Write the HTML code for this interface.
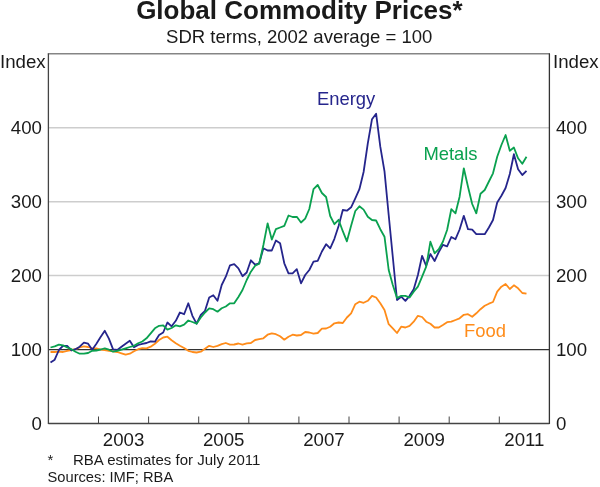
<!DOCTYPE html>
<html><head><meta charset="utf-8"><title>Global Commodity Prices</title>
<style>
html,body{margin:0;padding:0;background:#fff;}
svg{display:block;will-change:transform;font-family:"Liberation Sans",Arial,sans-serif;}
</style></head><body>
<svg width="600" height="487" viewBox="0 0 600 487">
<rect width="600" height="487" fill="#fff"/>
<text x="299.4" y="18.5" text-anchor="middle" font-size="26" font-weight="bold" fill="#1a1a1a">Global Commodity Prices*</text>
<text x="299.2" y="42.8" text-anchor="middle" font-size="18.55" fill="#1a1a1a">SDR terms, 2002 average = 100</text>
<line x1="48.4" x2="549.4" y1="127.8" y2="127.8" stroke="#cdcdcd" stroke-width="1.5"/><line x1="48.4" x2="549.4" y1="201.7" y2="201.7" stroke="#cdcdcd" stroke-width="1.5"/><line x1="48.4" x2="549.4" y1="275.6" y2="275.6" stroke="#cdcdcd" stroke-width="1.5"/>
<line x1="48.4" x2="549.4" y1="349.5" y2="349.5" stroke="#333" stroke-width="1.25"/>
<polyline fill="none" stroke="#ff8c1a" stroke-width="1.8" stroke-linejoin="round" points="50.5,352.0 54.7,352.0 58.9,351.7 63.0,352.0 67.2,350.8 71.4,350.0 75.5,349.2 79.7,347.5 83.9,346.3 88.1,347.0 92.2,348.3 96.4,348.3 100.6,349.5 104.8,350.0 108.9,350.8 113.1,351.3 117.3,352.0 121.5,353.3 125.6,354.7 129.8,353.7 134.0,351.3 138.2,349.2 142.3,348.2 146.5,348.3 150.7,346.7 154.9,343.7 159.1,340.0 163.2,337.5 167.4,336.7 171.6,340.3 175.8,343.3 179.9,345.8 184.1,348.0 188.3,350.8 192.4,352.0 196.6,352.5 200.8,351.7 205.0,348.7 209.2,345.8 213.3,347.0 217.5,345.8 221.7,344.2 225.8,343.0 230.0,344.7 234.2,344.5 238.4,343.5 242.5,344.7 246.7,343.3 250.9,343.0 255.1,340.0 259.2,339.2 263.4,338.3 267.6,334.7 271.8,333.3 275.9,334.2 280.1,336.3 284.3,339.7 288.5,336.7 292.6,334.7 296.8,335.5 301.0,335.0 305.2,332.0 309.3,332.5 313.5,333.7 317.7,333.0 321.9,328.7 326.1,328.5 330.2,326.7 334.4,323.3 338.6,322.5 342.8,323.0 346.9,317.5 351.1,313.3 355.3,304.2 359.4,301.7 363.6,302.8 367.8,300.8 372.0,295.8 376.1,297.5 380.3,303.3 384.5,310.0 388.7,324.2 392.8,328.3 397.0,333.0 401.2,326.7 405.4,327.5 409.6,325.8 413.7,321.7 417.9,315.8 422.1,317.0 426.2,321.7 430.4,323.8 434.6,327.5 438.8,327.5 442.9,325.0 447.1,322.2 451.3,321.7 455.5,320.0 459.6,318.3 463.8,314.8 468.0,314.2 472.2,316.8 476.3,313.3 480.5,309.2 484.7,305.8 488.9,303.7 493.0,302.0 497.2,291.7 501.4,286.7 505.6,284.0 509.8,289.0 513.9,285.3 518.1,288.3 522.3,293.0 526.5,293.7"/>
<polyline fill="none" stroke="#25258c" stroke-width="1.8" stroke-linejoin="round" points="50.5,362.5 54.7,359.7 58.9,350.0 63.0,345.8 67.2,345.8 71.4,350.5 75.5,349.2 79.7,346.7 83.9,342.7 88.1,343.7 92.2,349.7 96.4,343.7 100.6,337.0 104.8,330.8 108.9,338.7 113.1,349.3 117.3,350.0 121.5,346.7 125.6,343.7 129.8,340.8 134.0,347.2 138.2,345.0 142.3,343.9 146.5,343.0 150.7,341.3 154.9,341.7 159.1,335.0 163.2,332.5 167.4,322.5 171.6,326.3 175.8,320.8 179.9,312.5 184.1,314.2 188.3,303.3 192.4,315.8 196.6,323.7 200.8,315.0 205.0,310.8 209.2,297.5 213.3,295.3 217.5,300.8 221.7,285.0 225.8,276.7 230.0,265.3 234.2,264.2 238.4,268.3 242.5,276.2 246.7,272.5 250.9,260.3 255.1,264.7 259.2,263.3 263.4,248.3 267.6,250.5 271.8,250.5 275.9,240.5 280.1,243.3 284.3,263.3 288.5,273.3 292.6,273.3 296.8,269.2 301.0,283.3 305.2,275.0 309.3,270.0 313.5,261.7 317.7,260.8 321.9,251.5 326.1,244.2 330.2,248.3 334.4,238.8 338.6,226.0 342.8,210.0 346.9,210.7 351.1,207.3 355.3,198.3 359.4,189.2 363.6,172.0 367.8,143.3 372.0,119.2 376.1,113.7 380.3,146.7 384.5,171.3 388.7,215.0 392.8,257.0 397.0,300.0 401.2,296.7 405.4,300.8 409.6,295.8 413.7,289.2 417.9,275.0 422.1,255.8 426.2,265.8 430.4,254.0 434.6,261.0 438.8,252.0 442.9,244.8 447.1,246.3 451.3,237.0 455.5,239.2 459.6,229.5 463.8,215.8 468.0,229.2 472.2,229.7 476.3,234.2 480.5,234.2 484.7,234.2 488.9,227.5 493.0,220.0 497.2,202.5 501.4,195.8 505.6,188.0 509.8,174.0 513.9,154.2 518.1,169.2 522.3,175.0 526.5,170.8"/>
<polyline fill="none" stroke="#0aa14f" stroke-width="1.8" stroke-linejoin="round" points="50.5,347.5 54.7,346.3 58.9,344.7 63.0,345.3 67.2,347.5 71.4,349.2 75.5,351.7 79.7,353.7 83.9,353.7 88.1,353.0 92.2,350.8 96.4,350.5 100.6,349.5 104.8,348.3 108.9,349.7 113.1,351.7 117.3,350.8 121.5,349.7 125.6,348.3 129.8,347.0 134.0,345.8 138.2,343.3 142.3,341.5 146.5,338.3 150.7,333.3 154.9,328.3 159.1,325.8 163.2,325.3 167.4,329.7 171.6,328.0 175.8,325.3 179.9,326.3 184.1,324.7 188.3,320.5 192.4,322.0 196.6,323.7 200.8,317.5 205.0,312.5 209.2,308.3 213.3,309.2 217.5,311.7 221.7,308.3 225.8,306.5 230.0,303.3 234.2,303.3 238.4,297.0 242.5,290.0 246.7,280.0 250.9,271.7 255.1,265.8 259.2,263.7 263.4,245.0 267.6,223.3 271.8,239.6 275.9,229.2 280.1,227.5 284.3,225.8 288.5,215.5 292.6,217.0 296.8,216.8 301.0,222.5 305.2,218.7 309.3,209.0 313.5,189.2 317.7,185.0 321.9,193.0 326.1,197.0 330.2,216.0 334.4,224.2 338.6,219.8 342.8,231.2 346.9,241.3 351.1,225.8 355.3,211.0 359.4,206.3 363.6,209.6 367.8,216.7 372.0,220.0 376.1,220.5 380.3,229.2 384.5,236.7 388.7,270.0 392.8,285.0 397.0,298.0 401.2,295.8 405.4,295.8 409.6,297.5 413.7,291.7 417.9,286.7 422.1,276.7 426.2,266.7 430.4,241.7 434.6,253.3 438.8,249.2 442.9,241.7 447.1,230.0 451.3,209.2 455.5,213.3 459.6,196.7 463.8,168.3 468.0,186.7 472.2,204.0 476.3,213.3 480.5,193.7 484.7,190.0 488.9,181.5 493.0,173.3 497.2,156.7 501.4,145.0 505.6,135.0 509.8,150.8 513.9,147.5 518.1,158.3 522.3,163.7 526.5,156.7"/>
<line x1="47.8" x2="550.0" y1="53.8" y2="53.8" stroke="#858585" stroke-width="1.6"/>
<line x1="48.4" x2="48.4" y1="53.5" y2="424.1" stroke="#444" stroke-width="1.3"/>
<line x1="549.4" x2="549.4" y1="53.5" y2="424.1" stroke="#333" stroke-width="1.3"/>
<line x1="48.4" x2="549.4" y1="423.5" y2="423.5" stroke="#444" stroke-width="1.3"/>
<line x1="98.5" x2="98.5" y1="416.5" y2="423.5" stroke="#444" stroke-width="1"/><line x1="148.6" x2="148.6" y1="416.5" y2="423.5" stroke="#444" stroke-width="1"/><line x1="198.7" x2="198.7" y1="416.5" y2="423.5" stroke="#444" stroke-width="1"/><line x1="248.8" x2="248.8" y1="416.5" y2="423.5" stroke="#444" stroke-width="1"/><line x1="298.9" x2="298.9" y1="416.5" y2="423.5" stroke="#444" stroke-width="1"/><line x1="349.0" x2="349.0" y1="416.5" y2="423.5" stroke="#444" stroke-width="1"/><line x1="399.1" x2="399.1" y1="416.5" y2="423.5" stroke="#444" stroke-width="1"/><line x1="449.2" x2="449.2" y1="416.5" y2="423.5" stroke="#444" stroke-width="1"/><line x1="499.3" x2="499.3" y1="416.5" y2="423.5" stroke="#444" stroke-width="1"/>
<g font-size="18.67" fill="#1a1a1a">
<text x="0" y="67.8">Index</text><text x="553" y="67.8">Index</text>
<text x="42" y="429.7" text-anchor="end">0</text><text x="555.9" y="429.7">0</text><text x="42" y="355.7" text-anchor="end">100</text><text x="555.9" y="355.7">100</text><text x="42" y="281.7" text-anchor="end">200</text><text x="555.9" y="281.7">200</text><text x="42" y="207.7" text-anchor="end">300</text><text x="555.9" y="207.7">300</text><text x="42" y="133.7" text-anchor="end">400</text><text x="555.9" y="133.7">400</text>
<text x="123.55" y="445.5" text-anchor="middle">2003</text><text x="223.75" y="445.5" text-anchor="middle">2005</text><text x="323.95" y="445.5" text-anchor="middle">2007</text><text x="424.15" y="445.5" text-anchor="middle">2009</text><text x="524.35" y="445.5" text-anchor="middle">2011</text>
</g>
<g font-size="18.4">
<text x="317" y="105.3" fill="#25258c">Energy</text>
<text x="423.4" y="159.6" fill="#0aa14f">Metals</text>
<text x="464" y="337" fill="#ff8c1a">Food</text>
</g>
<g font-size="14.9" fill="#1a1a1a">
<text x="47.6" y="465">*</text><text x="73" y="465" font-size="15">RBA estimates for July 2011</text>
<text x="47.5" y="482.1" font-size="14.7">Sources: IMF; RBA</text>
</g>
</svg>
</body></html>
